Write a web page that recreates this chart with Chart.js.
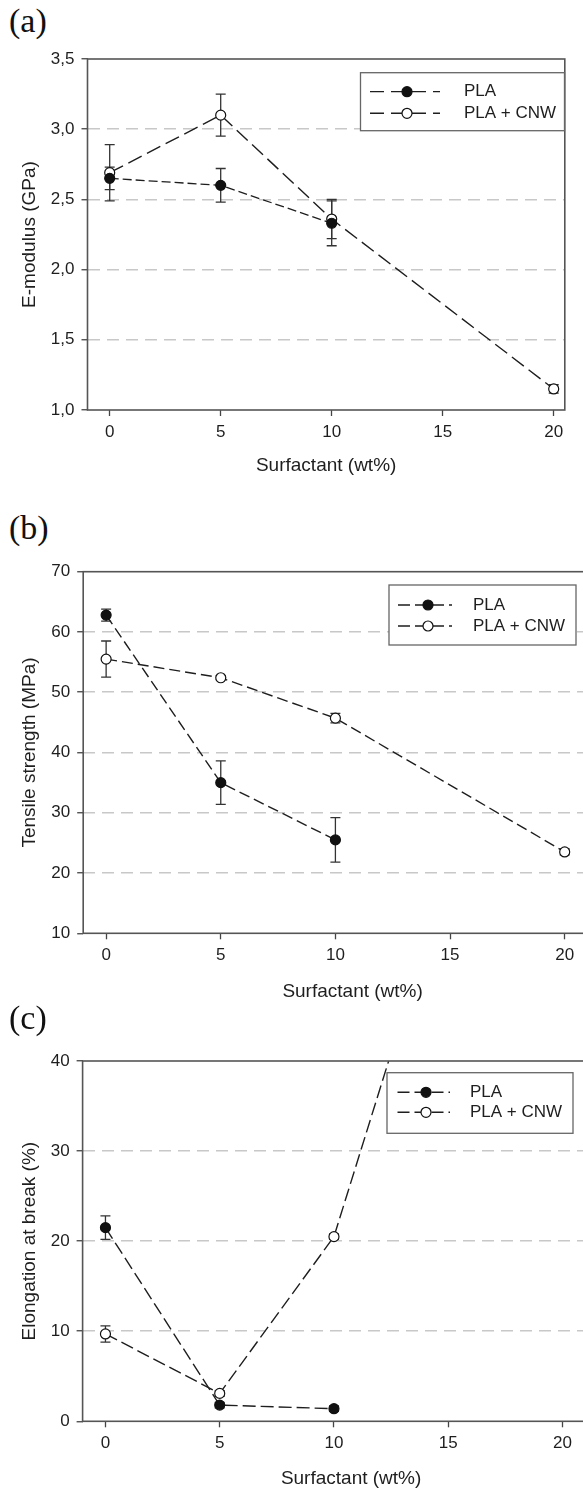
<!DOCTYPE html>
<html lang="en">
<head>
<meta charset="UTF-8">
<title>PLA and PLA + CNW: mechanical properties vs surfactant</title>
<script src="https://cdn.jsdelivr.net/npm/chart.js"></script>
<style>
    html, body { margin: 0; padding: 0; background: #fff; }
    body { width: 583px; height: 1494px; overflow: hidden; position: relative; }
    .panel { position: absolute; left: 0; }
    .panel canvas { display: block; }
    .tag {
        position: absolute;
        left: 9px;
        font: 34px "Liberation Serif", "Times New Roman", serif;
        line-height: 1;
        color: #111;
    }
</style>
</head>
<body>
    <div class="tag" style="top:4px">(a)</div>
    <div class="panel" style="top:0"><canvas id="modulusChart" width="583" height="500"></canvas></div>

    <div class="tag" style="top:511px">(b)</div>
    <div class="panel" style="top:500px"><canvas id="strengthChart" width="640" height="505"></canvas></div>

    <div class="tag" style="top:1001px">(c)</div>
    <div class="panel" style="top:1000px"><canvas id="elongationChart" width="640" height="494"></canvas></div>

<script>
// surfactant content (wt%)
const surfactantCnw = [0, 5, 10, 20];
const surfactantPla = [0, 5, 10];
const xTicks = [0, 5, 10, 15, 20];

// (a) E-modulus (GPa)
const modulusPla = [2.65, 2.60, 2.33];
const modulusPlaErr = [0.08, 0.12, 0.16];
const modulusCnw = [2.69, 3.10, 2.36, 1.15];
const modulusCnwErr = [0.20, 0.15, 0.14, 0.03];
const modulusTicks = [1.0, 1.5, 2.0, 2.5, 3.0, 3.5];
const modulusTickLabels = ['1,0', '1,5', '2,0', '2,5', '3,0', '3,5'];

// (b) tensile strength (MPa)
const strengthPla = [62.8, 35.0, 25.5];
const strengthPlaErr = [1.0, 3.6, 3.7];
const strengthCnw = [55.5, 52.4, 45.7, 23.5];
const strengthCnwErr = [3.0, 0.3, 0.8, 0.5];
const strengthTicks = [10, 20, 30, 40, 50, 60, 70];
const strengthTickLabels = ['10', '20', '30', '40', '50', '60', '70'];

// (c) elongation at break (%) - the 20 wt% CNW point lies far above the axis
const elongationPla = [21.5, 1.8, 1.4];
const elongationPlaErr = [1.3, 0.3, 0.3];
const elongationCnw = [9.7, 3.1, 20.5, 102];
const elongationCnwErr = [0.9, 0.3, 0.3, 2.0];
const elongationTicks = [0, 10, 20, 30, 40];
const elongationTickLabels = ['0', '10', '20', '30', '40'];

const SANS = '"Liberation Sans", Arial, sans-serif';
const INK = '#1e1e1e';

const points = (xs, ys) => xs.map((x, i) => ({ x: x, y: ys[i] }));

function series(label, xs, ys, errs, filled, dash, width) {
    return {
        label: label,
        data: points(xs, ys),
        errors: errs,
        borderColor: INK,
        borderWidth: width,
        borderDash: dash,
        tension: 0,
        fill: false,
        pointRadius: 5,
        pointHoverRadius: 5,
        pointBorderWidth: 1.2,
        pointBorderColor: '#111',
        pointBackgroundColor: filled ? '#111' : '#fff'
    };
}

// vertical error bars with caps, under the markers
const errorBars = {
    id: 'errorBars',
    beforeDatasetsDraw(chart) {
        const { ctx, chartArea: a, scales: { x, y } } = chart;
        ctx.save();
        ctx.beginPath();
        ctx.rect(a.left, a.top, a.right - a.left, a.bottom - a.top);
        ctx.clip();
        ctx.strokeStyle = '#333';
        ctx.lineWidth = 1.3;
        chart.data.datasets.forEach(ds => {
            ds.data.forEach((p, i) => {
                const e = ds.errors[i];
                const px = x.getPixelForValue(p.x);
                const hi = y.getPixelForValue(p.y + e);
                const lo = y.getPixelForValue(p.y - e);
                ctx.beginPath();
                ctx.moveTo(px, hi); ctx.lineTo(px, lo);
                ctx.moveTo(px - 5, hi); ctx.lineTo(px + 5, hi);
                ctx.moveTo(px - 5, lo); ctx.lineTo(px + 5, lo);
                ctx.stroke();
            });
        });
        ctx.restore();
    }
};

// closed box around the plot area
const frame = {
    id: 'frame',
    afterDraw(chart) {
        const { ctx, chartArea: a } = chart;
        ctx.save();
        ctx.strokeStyle = '#555';
        ctx.lineWidth = 1.6;
        ctx.strokeRect(a.left, a.top, a.right - a.left, a.bottom - a.top);
        ctx.restore();
    }
};

// boxed legend with a dashed line sample and marker per series
const boxLegend = {
    id: 'boxLegend',
    afterDraw(chart, args, o) {
        const ctx = chart.ctx;
        ctx.save();
        ctx.fillStyle = '#fff';
        ctx.fillRect(o.left, o.top, o.width, o.height);
        ctx.strokeStyle = '#666';
        ctx.lineWidth = 1.3;
        ctx.strokeRect(o.left, o.top, o.width, o.height);
        chart.data.datasets.forEach((ds, i) => {
            const y = o.top + o.rows[i];
            ctx.strokeStyle = ds.borderColor;
            ctx.lineWidth = ds.borderWidth;
            ctx.setLineDash(o.dash);
            ctx.beginPath();
            ctx.moveTo(o.left + o.lineFrom, y);
            ctx.lineTo(o.left + o.lineTo, y);
            ctx.stroke();
            ctx.setLineDash([]);
            ctx.beginPath();
            ctx.arc(o.left + o.markerX, y, ds.pointRadius, 0, Math.PI * 2);
            ctx.fillStyle = ds.pointBackgroundColor;
            ctx.fill();
            ctx.lineWidth = ds.pointBorderWidth;
            ctx.strokeStyle = ds.pointBorderColor;
            ctx.stroke();
            ctx.fillStyle = INK;
            ctx.font = '17px ' + SANS;
            ctx.textBaseline = 'middle';
            ctx.fillText(ds.label, o.left + o.textX, y);
        });
        ctx.restore();
    }
};

function makeChart(id, p) {
    const last = p.yTicks.length - 1;
    return new Chart(document.getElementById(id), {
        type: 'line',
        data: { datasets: p.datasets },
        plugins: [frame, errorBars, boxLegend],
        options: {
            responsive: false,
            animation: false,
            events: [],
            layout: { padding: p.padding },
            plugins: {
                legend: { display: false },
                tooltip: { enabled: false },
                boxLegend: p.legend
            },
            scales: {
                x: {
                    type: 'linear',
                    min: -1,
                    max: p.xMax,
                    afterBuildTicks: s => { s.ticks = xTicks.map(v => ({ value: v })); },
                    afterFit: s => { s.height = p.xHeight; },
                    grid: { drawOnChartArea: false, drawTicks: true, tickLength: 6, tickColor: '#444', tickWidth: 1.3 },
                    border: { display: false },
                    ticks: { color: INK, font: { family: SANS, size: 17 }, padding: 6, maxRotation: 0, autoSkip: false },
                    title: { display: true, text: 'Surfactant (wt%)', color: INK, font: { family: SANS, size: 19 }, padding: { top: 0, bottom: p.xTitlePad } }
                },
                y: {
                    type: 'linear',
                    min: p.yTicks[0],
                    max: p.yTicks[last],
                    afterBuildTicks: s => { s.ticks = p.yTicks.map(v => ({ value: v })); },
                    afterFit: s => { s.width = p.yWidth; },
                    grid: {
                        color: c => (c.index === 0 || c.index === last) ? 'rgba(0,0,0,0)' : '#c8c8c8',
                        lineWidth: 1.5,
                        tickLength: 6,
                        tickColor: '#444',
                        tickWidth: 1.3
                    },
                    border: { display: false, dash: [12, 7] },
                    ticks: { color: INK, font: { family: SANS, size: 17 }, padding: 7, callback: (v, i) => p.yLabels[i] },
                    title: { display: true, text: p.yTitle, color: INK, font: { family: SANS, size: 19 }, padding: { top: 18, bottom: 0 } }
                }
            }
        }
    });
}

makeChart('modulusChart', {
    datasets: [
        series('PLA', surfactantPla, modulusPla, modulusPlaErr, true, [9, 4], 1.3),
        series('PLA + CNW', surfactantCnw, modulusCnw, modulusCnwErr, false, [15, 6], 1.4)
    ],
    yTicks: modulusTicks,
    yLabels: modulusTickLabels,
    yTitle: 'E-modulus (GPa)',
    xMax: 20.5,
    padding: { left: 0, top: 59, right: 18.2, bottom: 0 },
    yWidth: 87.5,
    xHeight: 90,
    xTitlePad: 22.6,
    legend: { left: 360.5, top: 72.7, width: 204, height: 58, rows: [19, 40.6],
              lineFrom: 9.5, lineTo: 79.5, markerX: 46.5, textX: 103.5, dash: [14, 7] }
});

makeChart('strengthChart', {
    datasets: [
        series('PLA', surfactantPla, strengthPla, strengthPlaErr, true, [11, 5], 1.4),
        series('PLA + CNW', surfactantCnw, strengthCnw, strengthCnwErr, false, [11, 5], 1.4)
    ],
    yTicks: strengthTicks,
    yLabels: strengthTickLabels,
    yTitle: 'Tensile strength (MPa)',
    xMax: 22.5,
    padding: { left: 0, top: 71.7, right: 18, bottom: 0 },
    yWidth: 83.2,
    xHeight: 71.7,
    xTitlePad: 1.6,
    legend: { left: 389, top: 85, width: 187, height: 60, rows: [20, 41],
              lineFrom: 9, lineTo: 63, markerX: 39, textX: 84, dash: [12, 5] }
});

makeChart('elongationChart', {
    datasets: [
        series('PLA', surfactantPla, elongationPla, elongationPlaErr, true, [13, 5], 1.4),
        series('PLA + CNW', surfactantCnw, elongationCnw, elongationCnwErr, false, [13, 5], 1.4)
    ],
    yTicks: elongationTicks,
    yLabels: elongationTickLabels,
    yTitle: 'Elongation at break (%)',
    xMax: 22.5,
    padding: { left: 0, top: 61, right: 20.4, bottom: 0 },
    yWidth: 82.6,
    xHeight: 72.7,
    xTitlePad: 3.6,
    legend: { left: 387, top: 72.7, width: 186, height: 60.6, rows: [19.6, 39.6],
              lineFrom: 10.5, lineTo: 63, markerX: 39, textX: 83, dash: [12, 5] }
});
</script>
</body>
</html>
